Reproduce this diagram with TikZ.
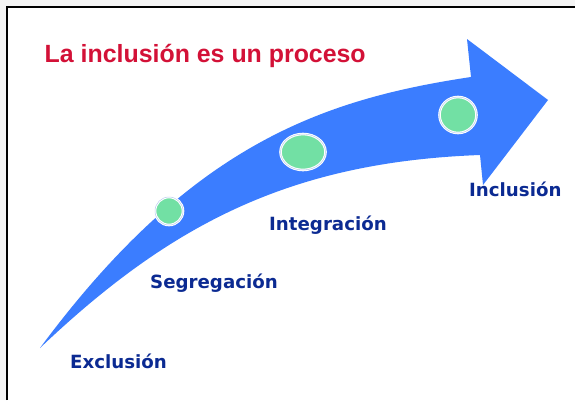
\documentclass[tikz,border=0pt]{standalone}
\usepackage{fontspec}
\newfontfamily\titlefont{Liberation Sans}
\newfontfamily\labelfont{DejaVu Sans}
\definecolor{outerbg}{HTML}{F4F4F4}
\definecolor{arrowblue}{HTML}{3B7DFF}
\definecolor{dotgreen}{HTML}{72E0A4}
\definecolor{labelblue}{HTML}{0B2A92}
\definecolor{titlered}{HTML}{D31137}
\definecolor{ringgap}{HTML}{B9CCEE}
\tikzset{
  stage/.style={anchor=base west, inner sep=0pt, text=labelblue,
    font=\labelfont\bfseries\fontsize{18.2}{21}\selectfont},
  titletext/.style={anchor=base west, inner sep=0pt, text=titlered,
    font=\titlefont\bfseries\fontsize{24.9}{29}\selectfont},
  dot/.style={fill=dotgreen, draw=white, line width=2.6pt},
  dotgap/.style={draw=ringgap, line width=0.5pt}
}
\begin{document}
\begin{tikzpicture}[x=1pt,y=-1pt]
\useasboundingbox (0,0) rectangle (575,400);
\fill[outerbg] (0,0) rectangle (575,400);
\fill[white] (7.2,7.2) rectangle (575,400);
\draw[black, line width=2.5pt] (7.2,400) -- (7.2,7.2) -- (575,7.2);
% arrow
\fill[arrowblue]
  (40,348) .. controls (190,145.5) and (321,99.5) .. (471,77)
  -- (467,39) -- (548,100) -- (483,185) -- (480,155)
  .. controls (290,162) and (170,224.5) .. (40,348)
  -- cycle;
% dots
\draw[dot] (169,211) circle[radius=14];
\draw[dotgap] (169,211) circle[radius=14];
\draw[dot] (303,152) ellipse[x radius=22.5, y radius=18];
\draw[dotgap] (303,152) ellipse[x radius=22.5, y radius=18];
\draw[dot] (458,115) ellipse[x radius=18.5, y radius=18];
\draw[dotgap] (458,115) ellipse[x radius=18.5, y radius=18];
% texts
\node[titletext] (title) at (44.5,62.7) {La inclusión es un proceso};
\node[stage] (excl) at (70,368.3) {Exclusión};
\node[stage] (segr) at (150,288.5) {Segregación};
\node[stage] (integ) at (269,230) {Integración};
\node[stage] (incl) at (469,196.7) {Inclusión};
\end{tikzpicture}
\end{document}
